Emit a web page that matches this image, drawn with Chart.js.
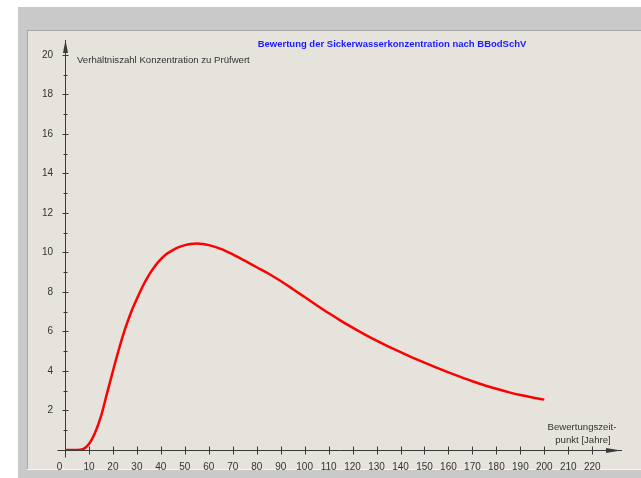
<!DOCTYPE html>
<html>
<head>
<meta charset="utf-8">
<script src="https://cdn.jsdelivr.net/npm/chart.js@4/dist/chart.umd.min.js"></script>
<style>
  body { margin: 0; background: #ffffff; }
  canvas { display: block; }
</style>
</head>
<body>
<canvas id="curveChart" width="641" height="478"></canvas>
<script>
// Sickerwasser curve
const years = [0, 5, 7.5, 10, 12.5, 15, 17.5, 20, 22.5, 25, 27.5, 30, 32.5, 35, 37.5, 40, 42.5, 45, 47.5, 50,
  52.5, 55, 57.5, 60, 65, 70, 75, 80, 85, 90, 95, 100, 105, 110, 115, 120, 125, 130, 135, 140,
  145, 150, 155, 160, 165, 170, 175, 180, 185, 190, 195, 200];
const ratio = [0, 0, 0.04, 0.3, 0.86, 1.7, 2.85, 4.0, 5.1, 6.1, 6.95, 7.65, 8.3, 8.85, 9.3, 9.66, 9.93, 10.12, 10.27, 10.37,
  10.43, 10.45, 10.43, 10.37, 10.18, 9.9, 9.58, 9.25, 8.92, 8.55, 8.15, 7.74, 7.33, 6.93, 6.55, 6.19, 5.85, 5.53, 5.23, 4.95,
  4.68, 4.42, 4.17, 3.93, 3.7, 3.48, 3.28, 3.1, 2.93, 2.78, 2.66, 2.55];
const xTicks = [0, 10, 20, 30, 40, 50, 60, 70, 80, 90, 100, 110, 120, 130, 140, 150, 160, 170, 180, 190, 200, 210, 220];
const yTicks = [2, 4, 6, 8, 10, 12, 14, 16, 18, 20];
const yMinorTicks = [1, 3, 5, 7, 9, 11, 13, 15, 17, 19];

const FONT = "'Liberation Sans', Arial, sans-serif";
const AXIS = "#3a3a3a";

// frame, axes with arrows, tick marks and texts
const framePlugin = {
  id: "frame",
  beforeDraw(chart) {
    const ctx = chart.ctx;
    ctx.save();
    ctx.fillStyle = "#ffffff";
    ctx.fillRect(0, 0, chart.width, chart.height);
    ctx.fillStyle = "#c9c9c9";
    ctx.fillRect(18, 7, chart.width - 18, chart.height - 7);
    ctx.fillStyle = "#e6e3dd";
    ctx.fillRect(27, 30, chart.width - 27, 439);
    ctx.fillStyle = "#a9a9a9";
    ctx.fillRect(27, 30, chart.width - 27, 1);
    ctx.fillRect(27, 30, 1, 439);
    ctx.fillStyle = "#f6f6f6";
    ctx.fillRect(27, 469, chart.width - 27, 1);
    ctx.restore();
  },
  beforeDatasetsDraw(chart) {
    const ctx = chart.ctx;
    const xs = chart.scales.x, ys = chart.scales.y;
    const x0 = Math.round(xs.getPixelForValue(0)) + 0.5;
    const y0 = Math.round(ys.getPixelForValue(0)) + 0.5;
    const top = chart.chartArea.top;
    const right = chart.chartArea.right;
    ctx.save();
    ctx.strokeStyle = AXIS;
    ctx.fillStyle = AXIS;
    ctx.lineWidth = 1;
    ctx.beginPath();
    ctx.moveTo(x0, y0 + 7);
    ctx.lineTo(x0, top);
    ctx.moveTo(x0 - 8, y0);
    ctx.lineTo(right + 1, y0);
    // y ticks
    yTicks.forEach(v => {
      const y = Math.round(ys.getPixelForValue(v)) + 0.5;
      ctx.moveTo(x0 - 3, y);
      ctx.lineTo(x0 + 3, y);
    });
    yMinorTicks.forEach(v => {
      const y = Math.round(ys.getPixelForValue(v)) + 0.5;
      ctx.moveTo(x0 - 2, y);
      ctx.lineTo(x0 + 2, y);
    });
    xTicks.forEach(v => {
      if (v === 0) return;
      const x = Math.round(xs.getPixelForValue(v)) + 0.5;
      ctx.moveTo(x, y0 - 4);
      ctx.lineTo(x, y0 + 4);
    });
    ctx.stroke();
    // arrows
    ctx.beginPath();
    ctx.moveTo(x0, top);
    ctx.lineTo(x0 - 2.5, top + 13);
    ctx.lineTo(x0 + 2.5, top + 13);
    ctx.closePath();
    ctx.fill();
    ctx.beginPath();
    ctx.moveTo(right, y0);
    ctx.lineTo(right - 15, y0 - 2.5);
    ctx.lineTo(right - 15, y0 + 2.5);
    ctx.closePath();
    ctx.fill();

    // texts
    ctx.textBaseline = "middle";
    ctx.fillStyle = "#1a1aff";
    ctx.font = "bold 9.5px " + FONT;
    ctx.textAlign = "center";
    ctx.fillText("Bewertung der Sickerwasserkonzentration nach BBodSchV", 392, 44);
    ctx.fillStyle = "#333333";
    ctx.font = "9.6px " + FONT;
    ctx.textAlign = "left";
    ctx.fillText("Verhältniszahl Konzentration zu Prüfwert", 77, 60);
    ctx.textAlign = "center";
    ctx.fillText("Bewertungszeit-", 582, 427);
    ctx.fillText("punkt [Jahre]", 583, 440);
    ctx.restore();
  }
};

const ctx = document.getElementById("curveChart").getContext("2d");
new Chart(ctx, {
  type: "line",
  data: {
    datasets: [
      {
        data: years.map((t, i) => ({ x: t, y: ratio[i] })),
        borderColor: "#ff0000",
        borderWidth: 2.5,
        pointRadius: 0,
        cubicInterpolationMode: "monotone",
        fill: false,
      },
    ],
  },
  options: {
    responsive: false,
    animation: false,
    layout: { padding: { left: 0, right: 20, top: 40, bottom: 8 } },
    plugins: {
      legend: { display: false },
      tooltip: { enabled: false },
    },
    scales: {
      x: {
        type: "linear",
        min: 0,
        max: 232,
        grid: { display: false },
        border: { display: false },
        afterBuildTicks: (scale) => { scale.ticks = xTicks.map(v => ({ value: v })); },
        afterFit: (scale) => { scale.height = 20; },
        ticks: {
          padding: 3,
          maxRotation: 0,
          autoSkip: false,
          color: "#333333",
          font: { family: FONT, size: 10 },
          callback: (v) => (v === 0 ? "0    " : String(v)),
        },
      },
      y: {
        min: 0,
        max: 20.75,
        grid: { display: false },
        border: { display: false },
        afterBuildTicks: (scale) => { scale.ticks = yTicks.map(v => ({ value: v })); },
        afterFit: (scale) => { scale.width = 65; },
        ticks: {
          padding: 4,
          autoSkip: false,
          color: "#333333",
          font: { family: FONT, size: 10 },
        },
      },
    },
  },
  plugins: [framePlugin],
});
</script>
</body>
</html>
